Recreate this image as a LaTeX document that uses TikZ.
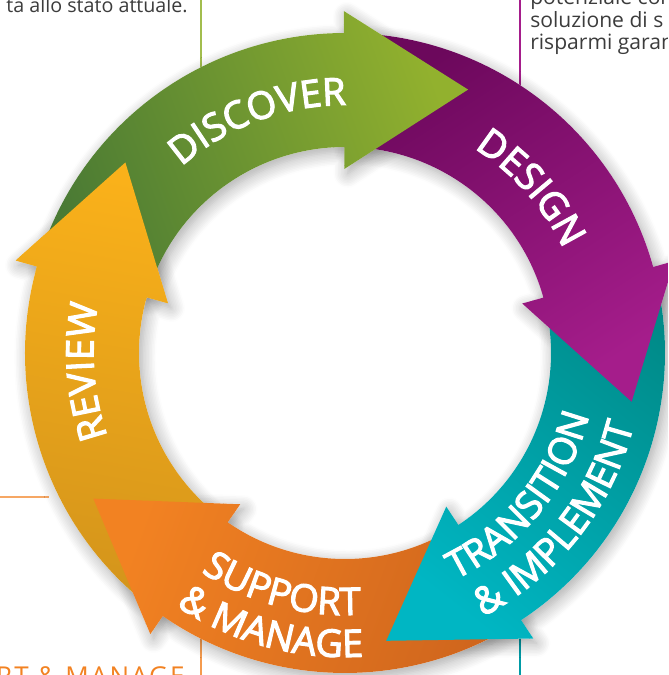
\documentclass[tikz,border=0pt]{standalone}
\usepackage{fontspec}
\setmainfont{Open Sans}
\newfontfamily\labelfamily{Open Sans}[FakeBold=3]
\usetikzlibrary{calc,decorations.text,shadows.blur}

\definecolor{textgray}{HTML}{3C3C3C}
\definecolor{discoverA}{HTML}{92B12E}
\definecolor{discoverB}{HTML}{4A7A34}
\definecolor{designA}{HTML}{6C085C}
\definecolor{designB}{HTML}{A51D8B}
\definecolor{transA}{HTML}{008A88}
\definecolor{transB}{HTML}{00B6C3}
\definecolor{supportA}{HTML}{F28222}
\definecolor{supportB}{HTML}{CF651D}
\definecolor{reviewA}{HTML}{FAB11A}
\definecolor{reviewB}{HTML}{D3941B}

% ring sizes (cm)
\newcommand{\ringin}{5.15}
\newcommand{\ringout}{8.0}
\newcommand{\ringmid}{6.575}
\newcommand{\barbin}{4.6}
\newcommand{\barbout}{8.55}
\newcommand{\headlen}{3.1}
\newcommand{\ringfont}{\labelfamily\fontsize{27}{27}\selectfont}

% one arrow of the ring, #1 = tail angle, #2 = head angle (clockwise)
\newcommand{\ringarrow}[2]{(#1:\ringout) arc[start angle=#1, end angle=#2, radius=\ringout]
  -- (#2:\barbout) -- ($(#2:\ringmid)+(#2-90:\headlen)$) -- (#2:\barbin)
  -- (#2:\ringin) arc[start angle=#2, end angle=#1, radius=\ringin] -- cycle}
% head only, a little past its base
\newcommand{\ringhead}[1]{(#1+1:\barbout) -- (#1:\barbout) -- ($(#1:\ringmid)+(#1-90:\headlen)$)
  -- (#1:\barbin) -- (#1+1:\barbin) -- cycle}

\tikzset{
  ring shadow/.style={fill=white, blur shadow={shadow xshift=0.08cm, shadow yshift=-0.12cm,
      shadow blur radius=0.35cm, shadow blur steps=10, shadow opacity=35}},
  discover fill/.style={top color=discoverA, bottom color=discoverB, shading angle=-70},
  design fill/.style={top color=designA, bottom color=designB, shading angle=33},
  trans fill/.style={top color=transA, bottom color=transB, shading angle=-38},
  support fill/.style={top color=supportA, bottom color=supportB, shading angle=70},
  review fill/.style={top color=reviewA, bottom color=reviewB, shading angle=-10},
  ring label/.style={decorate, decoration={text along path, text align=center,
      text color=white, text={|\ringfont|#1}}},
  body text/.style={inner sep=0pt, text=textgray, font=\fontsize{15}{16}\selectfont},
}

\begin{document}
\begin{tikzpicture}
	\useasboundingbox (-8.625,-8.05) rectangle (8.075,8.825);
	\clip (-8.625,-8.05) rectangle (8.075,8.825);

	% column rules and the text around the ring
	\draw[line width=0.8pt, color=discoverA!85!white] (-3.6,8.825) -- (-3.6,6.5);
	\draw[line width=0.8pt, color=designB] (4.375,8.825) -- (4.375,6.5);
	\draw[line width=0.8pt, color=supportA!80!white] (-3.6,-6.5) -- (-3.6,-8.05);
	\draw[line width=0.8pt, color=transB!85!black] (4.375,-6.5) -- (4.375,-8.05);
	\draw[line width=0.8pt, color=supportA!70!white] (-8.625,-3.6) -- (-7.4,-3.6);
	\node[body text, anchor=base east, font=\fontsize{14}{16}\selectfont] (prev) at (-3.925,8.525) {ta allo stato attuale.};
	\node[body text, anchor=base west] (info1) at (4.625,8.725) {potenziale con};
	\node[body text, anchor=base west] (info2) at (4.625,8.15) {soluzione di s};
	\node[body text, anchor=base west] (info3) at (4.625,7.6) {risparmi garan};
	\node[inner sep=0pt, anchor=base east, text=supportA, font=\fontsize{18.5}{18.5}\selectfont\addfontfeatures{LetterSpace=8}]
		(foot) at (-4.0,-8.31) {RT \& MANAGE};

	% soft shadow under the whole ring
	\foreach \t/\h in {164.3/90.2, 90.2/15.6, 15.6/-56.6, -56.6/-124.7, -124.7/-195.7}
		\path[ring shadow] \ringarrow{\t}{\h};

	% arrows, each head lies over the next tail
	\shade[review fill] \ringarrow{-124.7}{-195.7};
	\shade[support fill] \ringarrow{-56.6}{-124.7};
	\shade[trans fill] \ringarrow{15.6}{-56.6};
	\shade[design fill] \ringarrow{90.2}{15.6};
	\shade[discover fill] \ringarrow{164.3}{90.2};
	\begin{scope}
		\clip \ringhead{-195.7};
		\shade[review fill] \ringarrow{-124.7}{-195.7};
	\end{scope}

	% labels
	\path[ring label={DISCOVER}] (160.5:6.2) arc[start angle=160.5, end angle=60.5, radius=6.2];
	\path[ring label={DESIGN}] (91.6:6.05) arc[start angle=91.6, end angle=-8.4, radius=6.05];
	\path[ring label={REVIEW}] (234.1:6.29) arc[start angle=234.1, end angle=134.1, radius=6.29];
	\path[ring label={TRANSITION}] (-89.2:6.3) arc[start angle=-89.2, end angle=10.8, radius=6.3];
	\path[ring label={{\&} IMPLEMENT}] (-88.2:7.44) arc[start angle=-88.2, end angle=11.8, radius=7.44];
	\path[ring label={SUPPORT}] (-154.9:6.55) arc[start angle=-154.9, end angle=-54.9, radius=6.55];
	\path[ring label={{\&} MANAGE}] (-155.1:7.6) arc[start angle=-155.1, end angle=-55.1, radius=7.6];
\end{tikzpicture}
\end{document}
